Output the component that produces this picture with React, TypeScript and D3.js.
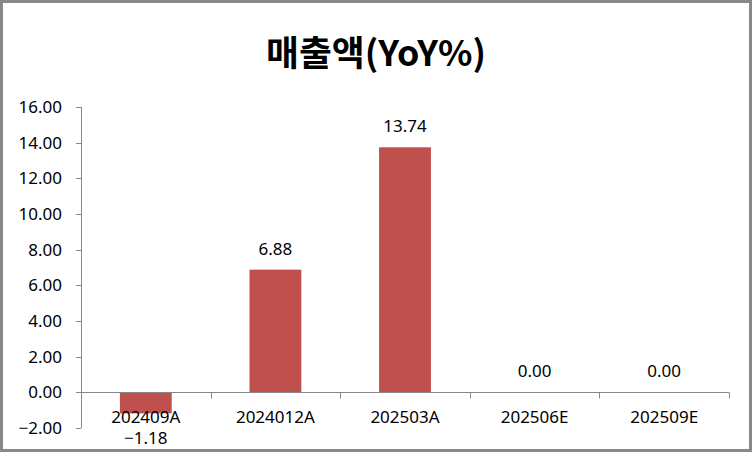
import React from "react";
import * as d3 from "d3";

const categories = ["202409A", "2024012A", "202503A", "202506E", "202509E"];
const values = [-1.18, 6.88, 13.74, 0.0, 0.0];
const yTicks = [-2, 0, 2, 4, 6, 8, 10, 12, 14, 16];
const title = "매출액(YoY%)";

const W = 752;
const H = 452;
const left = 81;
const right = 729;
const top = 107;
const bottom = 428;

export default function App() {
  const x = d3.scaleBand<string>().domain(categories).range([left, right]).paddingInner(0.6).paddingOuter(0.3);
  const band = d3.scaleBand<string>().domain(categories).range([left, right]);
  const y = d3.scaleLinear().domain([-2, 16]).range([bottom, top]);
  const font = "'Noto Sans', 'DejaVu Sans', sans-serif";
  const fs = 17;
  const axisColor = "#868686";
  const y0 = y(0);
  return (
    <div style={{ position: "fixed", left: 0, top: 0 }}>
      <svg width={W} height={H} style={{ display: "block" }}>
        <rect x={0} y={0} width={W} height={H} fill="#fff" />
        <rect x={1.5} y={1.5} width={W - 3} height={H - 3} fill="none" stroke="#888" strokeWidth={3} />
        <text
          x={376}
          y={66}
          textAnchor="middle"
          fontFamily="'Noto Sans CJK KR', sans-serif"
          fontWeight="bold"
          fontSize={35}
          textLength={220}
          lengthAdjust="spacingAndGlyphs"
        >
          {title}
        </text>
        {/* y axis */}
        <line x1={left + 0.5} x2={left + 0.5} y1={top} y2={bottom} stroke={axisColor} strokeWidth={1} />
        {yTicks.map((t) => (
          <g key={t}>
            <line x1={left - 5} x2={left} y1={Math.round(y(t)) + 0.5} y2={Math.round(y(t)) + 0.5} stroke={axisColor} />
            <text x={62} y={y(t)} dy="0.35em" textAnchor="end" fontFamily={font} fontSize={fs} fill="#000">
              {d3.format(".2f")(t)}
            </text>
          </g>
        ))}
        {/* bars */}
        {categories.map((c, i) => {
          const v = values[i];
          const yTop = Math.min(y(v), y0);
          const h = Math.abs(y(v) - y0);
          return <rect key={c} x={x(c)} y={yTop} width={x.bandwidth()} height={h} fill="#C0504D" />;
        })}
        {/* x axis */}
        <line x1={left} x2={right} y1={Math.round(y0) + 0.5} y2={Math.round(y0) + 0.5} stroke={axisColor} />
        {categories.map((c) => (
          <line
            key={"t" + c}
            x1={Math.round((band(c) as number) + band.bandwidth()) + 0.5}
            x2={Math.round((band(c) as number) + band.bandwidth()) + 0.5}
            y1={y0}
            y2={y0 + 6}
            stroke={axisColor}
          />
        ))}
        {categories.map((c) => (
          <text
            key={"l" + c}
            x={(band(c) as number) + band.bandwidth() / 2}
            y={417}
            dy="0.35em"
            textAnchor="middle"
            fontFamily={font}
            fontSize={fs}
          >
            {c}
          </text>
        ))}
        {/* value labels */}
        {categories.map((c, i) => {
          const v = values[i];
          const cx = (band(c) as number) + band.bandwidth() / 2;
          const ly = v < 0 ? 438 : y(v) - 21;
          return (
            <text key={"v" + c} x={cx} y={ly} dy="0.35em" textAnchor="middle" fontFamily={font} fontSize={fs}>
              {d3.format(".2f")(v)}
            </text>
          );
        })}
      </svg>
    </div>
  );
}
